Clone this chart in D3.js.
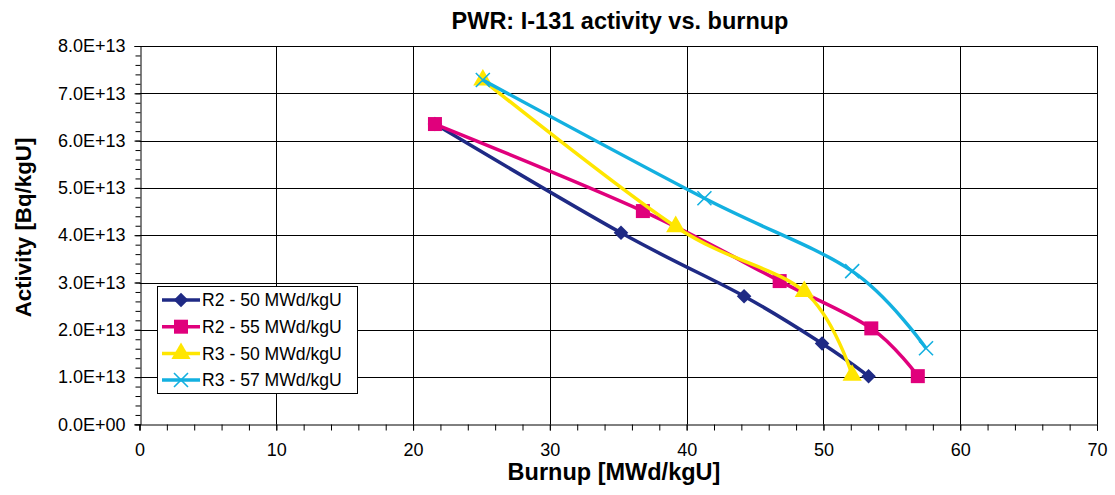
<!DOCTYPE html>
<html><head><meta charset="utf-8">
<script src="https://cdn.jsdelivr.net/npm/d3@7"></script>
<style>body{margin:0;background:#fff;} svg{display:block;font-family:"Liberation Sans",Arial,sans-serif;}</style>
</head><body><svg id="c" width="1115" height="495"></svg>
<script>
const seriesNames = ["R2 - 50 MWd/kgU","R2 - 55 MWd/kgU","R3 - 50 MWd/kgU","R3 - 57 MWd/kgU"];
const r2_50_x = [21.6, 35.2, 44.2, 49.9, 53.3];
const r2_50_y = [6.35e13, 4.05e13, 2.71e13, 1.71e13, 1.02e13];
const r2_55_x = [21.6, 36.8, 46.8, 53.5, 56.9];
const r2_55_y = [6.35e13, 4.51e13, 3.03e13, 2.03e13, 1.02e13];
const r3_50_x = [25.1, 39.2, 48.6, 52.1];
const r3_50_y = [7.28e13, 4.18e13, 2.81e13, 1.04e13];
const r3_57_x = [25.1, 41.3, 52.1, 57.5];
const r3_57_y = [7.28e13, 4.78e13, 3.24e13, 1.61e13];
const xTicks = [0,10,20,30,40,50,60,70];
const yTicks = [0,1e13,2e13,3e13,4e13,5e13,6e13,7e13,8e13];
const colors = ["#1f2a85","#e0007c","#ffe600","#13b0e0"];
const markers = ["diamond","square","triangle","x"];

const series = [
  {name:seriesNames[0], xs:r2_50_x, ys:r2_50_y},
  {name:seriesNames[1], xs:r2_55_x, ys:r2_55_y},
  {name:seriesNames[2], xs:r3_50_x, ys:r3_50_y},
  {name:seriesNames[3], xs:r3_57_x, ys:r3_57_y}
];

const svg = d3.select("#c");
const L=139.5, R=1097, T=46, B=424.4;
const x = d3.scaleLinear().domain([0,70]).range([L,R]);
const y = d3.scaleLinear().domain([0,8e13]).range([B,T]);

// grid
const g = svg.append("g");
g.selectAll(".vg").data(xTicks.slice(1)).join("line")
  .attr("x1",d=>Math.round(x(d))+0.5).attr("x2",d=>Math.round(x(d))+0.5)
  .attr("y1",T).attr("y2",B).attr("stroke","#000").attr("stroke-width",1);
g.selectAll(".hg").data(yTicks.slice(1)).join("line")
  .attr("y1",d=>Math.round(y(d))+0.5).attr("y2",d=>Math.round(y(d))+0.5)
  .attr("x1",L).attr("x2",R).attr("stroke","#000").attr("stroke-width",1);

// axes
const xAxis = d3.axisBottom(x).tickValues(xTicks).tickSize(6).tickPadding(13).tickFormat(d3.format("d"));
const xa = svg.append("g").attr("transform",`translate(0,${Math.round(B)+0.5})`).call(xAxis);
xa.select(".domain").attr("stroke","#000");
xa.selectAll("text").attr("font-size",18).attr("fill","#000").attr("font-family","Liberation Sans, Arial, sans-serif");
const xMinor = d3.axisBottom(x).tickValues(d3.range(0,71,2)).tickSize(6).tickFormat("");
svg.append("g").attr("transform",`translate(0,${Math.round(B)+0.5})`).call(xMinor).select(".domain").remove();

const yAxis = d3.axisLeft(y).tickValues(yTicks).tickSize(6).tickPadding(9)
  .tickFormat(d=>{ const e=d===0?"0.0E+00":(d/1e13).toFixed(1)+"E+13"; return e; });
const ya = svg.append("g").attr("transform",`translate(${Math.round(L)+0.5},0)`).call(yAxis);
ya.select(".domain").attr("stroke","#000");
ya.selectAll("text").attr("font-size",18).attr("fill","#000").attr("font-family","Liberation Sans, Arial, sans-serif");
const yMinor = d3.axisLeft(y).tickValues(d3.range(0,8.01e13,0.2e13)).tickSize(5).tickFormat("");
svg.append("g").attr("transform",`translate(${Math.round(L)+0.5},0)`).call(yMinor).select(".domain").remove();

// top & right border
svg.append("line").attr("x1",L).attr("x2",R).attr("y1",T+0.5).attr("y2",T+0.5).attr("stroke","#000");
svg.append("line").attr("x1",Math.round(R)+0.5).attr("x2",Math.round(R)+0.5).attr("y1",T).attr("y2",B).attr("stroke","#000");

function markerPath(type, s){
  if(type==="diamond") return d3.symbol(d3.symbolDiamond2, s*s*0.6)();
  if(type==="square") return d3.symbol(d3.symbolSquare, s*s)();
  if(type==="triangle") return d3.symbol(d3.symbolTriangle, s*s*0.55)();
  return null;
}
function drawMarker(sel, type, color, cx, cy){
  if(type==="x"){
    const h=7;
    sel.append("path").attr("d",`M${cx-h},${cy-h}L${cx+h},${cy+h}M${cx-h},${cy+h}L${cx+h},${cy-h}`)
      .attr("stroke",color).attr("stroke-width",1.6).attr("fill","none");
  } else {
    const s = type==="diamond"?15:(type==="square"?14:17);
    sel.append("path").attr("d",markerPath(type,s)).attr("transform",`translate(${cx},${cy})`).attr("fill",color);
  }
}

const line = d3.line().x(d=>x(d[0])).y(d=>y(d[1])).curve(d3.curveCardinal.tension(0));
series.forEach((s,i)=>{
  const pts = s.xs.map((v,j)=>[v,s.ys[j]]);
  const sg = svg.append("g");
  sg.append("path").attr("d",line(pts)).attr("fill","none").attr("stroke",colors[i]).attr("stroke-width",3.5);
  pts.forEach(p=>drawMarker(sg, markers[i], colors[i], x(p[0]), y(p[1])));
});

// legend
const lg = svg.append("g");
lg.append("rect").attr("x",157.5).attr("y",286.5).attr("width",200).attr("height",107).attr("fill","#fff").attr("stroke","#000");
const ly = [300, 326.7, 353.5, 380];
series.forEach((s,i)=>{
  lg.append("line").attr("x1",162).attr("x2",200).attr("y1",ly[i]).attr("y2",ly[i]).attr("stroke",colors[i]).attr("stroke-width",3.5);
  drawMarker(lg, markers[i], colors[i], 181, ly[i]);
  lg.append("text").attr("x",202).attr("y",ly[i]+6.3).attr("font-size",17.6).attr("fill","#000").text(s.name);
});

// titles
svg.append("text").attr("x",620).attr("y",29).attr("text-anchor","middle").attr("font-size",23.5).attr("font-weight","bold").text("PWR: I-131 activity vs. burnup");
svg.append("text").attr("x",614).attr("y",480).attr("text-anchor","middle").attr("font-size",23.5).attr("font-weight","bold").text("Burnup [MWd/kgU]");
svg.append("text").attr("transform","translate(30.5,227.5) rotate(-90)").attr("text-anchor","middle").attr("font-size",22.3).attr("font-weight","bold").text("Activity [Bq/kgU]");
</script></body></html>
